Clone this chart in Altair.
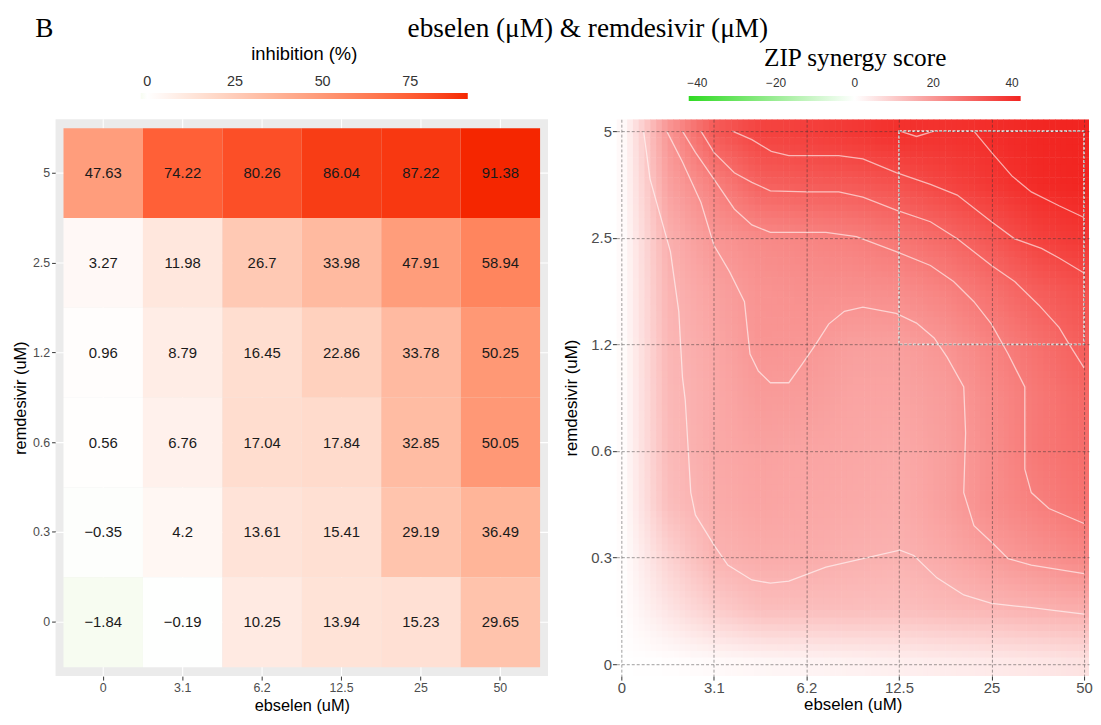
import json
import altair as alt
import pandas as pd

# ---------------- data ----------------
ebselen_labels = ["0", "3.1", "6.2", "12.5", "25", "50"]
remdesivir_labels = ["0", "0.3", "0.6", "1.2", "2.5", "5"]

# inhibition (%) — one list per remdesivir dose, columns = ebselen doses
inhib_rem_5 = [47.63, 74.22, 80.26, 86.04, 87.22, 91.38]
inhib_rem_2_5 = [3.27, 11.98, 26.7, 33.98, 47.91, 58.94]
inhib_rem_1_2 = [0.96, 8.79, 16.45, 22.86, 33.78, 50.25]
inhib_rem_0_6 = [0.56, 6.76, 17.04, 17.84, 32.85, 50.05]
inhib_rem_0_3 = [-0.35, 4.2, 13.61, 15.41, 29.19, 36.49]
inhib_rem_0 = [-1.84, -0.19, 10.25, 13.94, 15.23, 29.65]

# ZIP synergy surface read at half-dose-step positions (index units on both axes)
zip_pos = [0, 0.5, 1, 1.5, 2, 2.5, 3, 3.5, 4, 4.5, 5]
zip_row_5 = [0, 20.2, 32, 36.5, 37.2, 38.6, 40.2, 39.7, 40.5, 41.7, 42.2]
zip_row_4_5 = [0, 18, 24.5, 30.5, 31.5, 32, 33.5, 36, 38.5, 41, 42]
zip_row_4 = [0, 15.2, 20.2, 22.5, 23.5, 24.5, 26.5, 29, 32.5, 36.5, 38.5]
zip_row_3_5 = [0, 14.3, 18, 20.8, 21.5, 21.5, 22, 24, 27.5, 31, 33.5]
zip_row_3 = [0, 13.8, 17, 20.5, 20.2, 18.5, 18.5, 20.5, 24, 27.5, 31]
zip_row_2_5 = [0, 13.5, 16.5, 19.3, 19, 17.5, 17.5, 19, 22.5, 26, 29]
zip_row_2 = [0, 13.2, 16.5, 18, 17.5, 17, 16.5, 18.5, 22, 26, 28]
zip_row_1_5 = [0, 12.5, 16, 17.5, 17, 16.5, 16, 18.5, 22, 24.5, 27]
zip_row_1 = [0, 8.5, 14.6, 16, 16, 15.2, 14.8, 16.5, 19, 21, 23]
zip_row_0_5 = [0, 5, 9.5, 12.5, 12.5, 12.5, 12.3, 13.2, 14, 14.8, 15.5]
zip_row_0 = [0, 0, 0.5, 1, 1.5, 2, 2.5, 3, 3.5, 4, 5]

# contour lines (levels 15..40), in index units
contour15_i = [0.24, 0.31, 0.53, 0.62, 0.66, 0.69, 0.75, 0.80, 1.0, 1.15, 1.41, 1.61, 1.81, 2.21, 2.61, 3.01, 3.16, 3.41, 3.70, 4.0, 4.43, 5.0]
contour15_j = [5.0, 4.55, 3.87, 3.31, 2.69, 2.48, 1.61, 1.40, 1.12, 0.93, 0.79, 0.76, 0.78, 0.91, 0.99, 1.07, 1.02, 0.81, 0.65, 0.57, 0.53, 0.47]
contour20_i = [0.49, 0.66, 0.86, 1.0, 1.17, 1.33, 1.36, 1.39, 1.48, 1.61, 1.81, 1.95, 2.10, 2.24, 2.41, 2.61, 2.97, 3.19, 3.38, 3.52, 3.70, 3.72, 3.70, 3.81, 4.03, 4.18, 4.43, 5.0]
contour20_j = [5.0, 4.71, 4.33, 3.93, 3.68, 3.40, 3.15, 2.91, 2.75, 2.64, 2.64, 2.81, 3.0, 3.19, 3.31, 3.35, 3.29, 3.20, 3.06, 2.88, 2.60, 2.17, 1.61, 1.30, 1.12, 0.99, 0.93, 0.85]
contour25_i = [0.66, 0.80, 1.0, 1.22, 1.41, 1.61, 2.21, 2.54, 2.97, 3.34, 3.59, 3.81, 4.0, 4.18, 4.36, 4.36, 4.43, 4.62, 5.0]
contour25_j = [5.0, 4.8, 4.55, 4.27, 4.12, 4.05, 4.05, 4.01, 3.87, 3.74, 3.59, 3.40, 3.19, 2.91, 2.60, 1.83, 1.61, 1.46, 1.32]
contour30_i = [0.86, 1.0, 1.22, 1.41, 1.61, 2.01, 2.35, 2.61, 2.97, 3.34, 3.63, 4.0, 4.25, 4.51, 4.73, 4.84, 5.0]
contour30_j = [5.0, 4.8, 4.61, 4.52, 4.44, 4.43, 4.43, 4.38, 4.26, 4.15, 3.99, 3.74, 3.59, 3.37, 3.16, 3.0, 2.78]
contour35_i = [1.2, 1.41, 1.62, 1.81, 2.35, 2.61, 2.97, 3.34, 3.63, 4.0, 4.25, 4.54, 4.73, 5.0]
contour35_j = [5.0, 4.92, 4.81, 4.77, 4.77, 4.74, 4.61, 4.5, 4.4, 4.15, 3.99, 3.9, 3.81, 3.67]
contour40_i = [3.81, 4.0, 4.22, 4.43, 4.73, 5.0]
contour40_j = [5.0, 4.8, 4.58, 4.43, 4.3, 4.19]
contour40b_i = [3.01, 3.19, 3.38]
contour40b_j = [5.0, 4.95, 5.0]

# most synergistic area box (doses)
box_ebselen = ["12.5", "50"]
box_remdesivir = ["1.2", "5"]

# colour-bar limits read from the legends
inhib_limits = [-1.84, 91.38]
zip_limits = [-42.2, 42.2]

# ---------------- tables ----------------
heat_rows = []
for rem, vals in [("5", inhib_rem_5), ("2.5", inhib_rem_2_5), ("1.2", inhib_rem_1_2),
                  ("0.6", inhib_rem_0_6), ("0.3", inhib_rem_0_3), ("0", inhib_rem_0)]:
    for eb, v in zip(ebselen_labels, vals):
        heat_rows.append({"ebselen": eb, "remdesivir": rem, "inhibition": v})
heat_df = pd.DataFrame(heat_rows)
xgrid_df = pd.DataFrame({"ebselen": ebselen_labels})
ygrid_df = pd.DataFrame({"remdesivir": remdesivir_labels})

zip_rows = [(5, zip_row_5), (4.5, zip_row_4_5), (4, zip_row_4), (3.5, zip_row_3_5), (3, zip_row_3),
            (2.5, zip_row_2_5), (2, zip_row_2), (1.5, zip_row_1_5), (1, zip_row_1), (0.5, zip_row_0_5), (0, zip_row_0)]
surf_rows = []
for jpos, vals in zip_rows:
    for ipos, v in zip(zip_pos, vals):
        surf_rows.append({"ii": ipos, "jj": jpos, "v": v,
                          "key": int(round(ipos * 2)) * 100 + int(round(jpos * 2))})
surf_df = pd.DataFrame(surf_rows)

cont_rows = []
for name, ci, cj in [("15", contour15_i, contour15_j), ("20", contour20_i, contour20_j),
                     ("25", contour25_i, contour25_j), ("30", contour30_i, contour30_j),
                     ("35", contour35_i, contour35_j), ("40", contour40_i, contour40_j),
                     ("40b", contour40b_i, contour40b_j)]:
    for k, (a, b) in enumerate(zip(ci, cj)):
        cont_rows.append({"lvl": name, "ord": k, "ci": a, "cj": b})
cont_df = pd.DataFrame(cont_rows)

box_df = pd.DataFrame([{
    "bx0": ebselen_labels.index(box_ebselen[0]), "bx1": ebselen_labels.index(box_ebselen[1]),
    "by0": remdesivir_labels.index(box_remdesivir[0]), "by1": remdesivir_labels.index(box_remdesivir[1]),
}])

# ---------------- left: inhibition heatmap ----------------
SANS = "Liberation Sans"
SERIF = "Liberation Serif"

left_axis_common = dict(domain=False, tickColor="#333333", tickSize=4, tickWidth=1,
                        labelFontSize=12.5, labelColor="#4D4D4D", labelPadding=2,
                        titleFontSize=16.5, titleFontWeight="normal", titleColor="black",
                        grid=False, bandPosition=0.5)

x_scale_left = alt.Scale(domain=ebselen_labels, paddingInner=0, paddingOuter=0.1)
y_scale_left = alt.Scale(domain=list(reversed(remdesivir_labels)), paddingInner=0, paddingOuter=0.1)
x_left = alt.X("ebselen:O", scale=x_scale_left,
               axis=alt.Axis(title="ebselen (uM)", labelAngle=0, titlePadding=3, **left_axis_common))
y_left = alt.Y("remdesivir:O", scale=y_scale_left,
               axis=alt.Axis(title="remdesivir (uM)", titlePadding=4, **left_axis_common))

vgrid = alt.Chart(xgrid_df).mark_rule(color="white", strokeWidth=1.1).encode(x=x_left)
hgrid = alt.Chart(ygrid_df).mark_rule(color="white", strokeWidth=1.1).encode(y=y_left)

tiles = alt.Chart(heat_df).mark_rect(opacity=1).encode(
    x=x_left, y=y_left,
    color=alt.Color("inhibition:Q",
                    scale=alt.Scale(domain=[inhib_limits[0], 0, inhib_limits[1]],
                                    range=["#F7FCF1", "#FFFFFF", "#F52600"], interpolate="lab"),
                    legend=alt.Legend(orient="none", legendX=86, legendY=-75, direction="horizontal",
                                      title="inhibition (%)", titleFont=SANS, titleFontSize=18.5,
                                      titleFontWeight="normal", titleColor="black", titleAnchor="middle",
                                      titleLimit=600, titlePadding=30, gradientLength=330,
                                      gradientThickness=6, gradientStrokeWidth=0, values=[0, 25, 50, 75],
                                      labelOffset={"expr": "-24"}, labelFontSize=14.5, labelColor="#333333",
                                      labelFont=SANS)),
)
tile_text = alt.Chart(heat_df).transform_calculate(
    label="replace(toString(datum.inhibition), '-', '\u2212')"
).mark_text(font=SANS, fontSize=15, color="#1A1A1A").encode(
    x=x_left, y=y_left, text="label:N"
)

left = alt.layer(vgrid, hgrid, tiles, tile_text).properties(
    width=497, height=562,
    view=alt.ViewBackground(fill="#EBEBEB", strokeWidth=0),
)

# ---------------- right: ZIP synergy surface ----------------
XMIN, XMAX = -0.054, 5.054
YMIN, YMAX = -0.1115, 5.1115
N = 8

x_scale = alt.Scale(domain=[XMIN, XMAX], nice=False, zero=False)
y_scale = alt.Scale(domain=[YMIN, YMAX], nice=False, zero=False)
right_axis_common = dict(domain=False, tickColor="#333333", tickSize=4, tickWidth=1,
                         labelFontSize=15, labelColor="#4D4D4D", labelPadding=1,
                         titleFontSize=17, titleFontWeight="normal", titleColor="black",
                         grid=True, gridColor="#333333", gridOpacity=0.6, gridDash=[3, 2],
                         gridWidth=0.8, zindex=1)
x_right_axis = alt.Axis(title="ebselen (uM)", values=[0, 1, 2, 3, 4, 5],
                        labelExpr=json.dumps(ebselen_labels) + "[datum.value]",
                        titlePadding=1, **right_axis_common)
y_right_axis = alt.Axis(title="remdesivir (uM)", values=[0, 1, 2, 3, 4, 5],
                        labelExpr=json.dumps(remdesivir_labels) + "[datum.value]",
                        titlePadding=10, **right_axis_common)


def rx(field):
    return alt.X(field, type="quantitative", scale=x_scale, axis=x_right_axis)


def ry(field):
    return alt.Y(field, type="quantitative", scale=y_scale, axis=y_right_axis)


def lk():
    return alt.LookupData(data=surf_df, key="key", fields=["v"])


surface = alt.Chart(surf_df).transform_calculate(
    gi="round(datum.ii * 2)", gj="round(datum.jj * 2)"
).transform_filter(
    "datum.gi < 10 && datum.gj < 10"
).transform_calculate(
    k10="(datum.gi + 1) * 100 + datum.gj",
    k01="datum.gi * 100 + datum.gj + 1",
    k11="(datum.gi + 1) * 100 + datum.gj + 1",
).transform_lookup(
    lookup="k10", from_=lk(), as_=["v10"]
).transform_lookup(
    lookup="k01", from_=lk(), as_=["v01"]
).transform_lookup(
    lookup="k11", from_=lk(), as_=["v11"]
).transform_calculate(
    sx=f"sequence(0, {N})"
).transform_flatten(["sx"]).transform_calculate(
    sy=f"sequence(0, {N})"
).transform_flatten(["sy"]).transform_calculate(
    uc=f"(datum.sx + 0.5) / {N}",
    vc=f"(datum.sy + 0.5) / {N}",
).transform_calculate(
    val="(1 - datum.uc) * (1 - datum.vc) * datum.v + datum.uc * (1 - datum.vc) * datum.v10"
        " + (1 - datum.uc) * datum.vc * datum.v01 + datum.uc * datum.vc * datum.v11",
    x0=f"(datum.gi == 0 && datum.sx == 0) ? {XMIN} : datum.ii + 0.5 * datum.sx / {N}",
    x1=f"(datum.gi == 9 && datum.sx == {N - 1}) ? {XMAX} : datum.ii + 0.5 * (datum.sx + 1) / {N} + 0.006",
    y0=f"(datum.gj == 0 && datum.sy == 0) ? {YMIN} : datum.jj + 0.5 * datum.sy / {N}",
    y1=f"(datum.gj == 9 && datum.sy == {N - 1}) ? {YMAX} : datum.jj + 0.5 * (datum.sy + 1) / {N} + 0.006",
).mark_rect(clip=True).encode(
    x=rx("x0"), x2="x1:Q", y=ry("y0"), y2="y1:Q",
    color=alt.Color("val:Q",
                    scale=alt.Scale(domain=[zip_limits[0], 0, zip_limits[1]],
                                    range=["#2FDA22", "#FFFFFF", "#F22420"], interpolate="rgb"),
                    legend=alt.Legend(orient="none", legendX=73, legendY=-74, direction="horizontal",
                                      title="ZIP synergy score", titleFont=SERIF, titleFontSize=25.5,
                                      titleFontWeight="normal", titleColor="black", titleAnchor="middle",
                                      titleLimit=600, titlePadding=25, gradientLength=335,
                                      gradientThickness=5, gradientStrokeWidth=0,
                                      values=[-40, -20, 0, 20, 40],
                                      labelOffset={"expr": "-23.5"}, labelFontSize=12, labelColor="#333333",
                                      labelFont=SANS)),
)

contours = alt.Chart(cont_df).mark_line(color="white", strokeWidth=1.3, opacity=0.6, clip=True).encode(
    x=rx("ci"), y=ry("cj"), detail="lvl:N", order="ord:Q"
)

box = alt.Chart(box_df).mark_rect(fill="transparent", stroke="#E2E2E2", strokeWidth=1.6,
                                  strokeDash=[3, 1.5]).encode(
    x=rx("bx0"), x2="bx1:Q", y=ry("by0"), y2="by1:Q"
)

right = alt.layer(surface, contours, box).properties(width=477, height=562)

panel_tag = "B"
main_title = "ebselen (\u03bcM) & remdesivir (\u03bcM)"

chart = alt.hconcat(left, right, spacing=69, bounds="flush").resolve_scale(
    color="independent"
).properties(
    title=alt.TitleParams(panel_tag + "\u00a0" * 52 + main_title, font=SERIF, fontSize=27.5,
                          fontWeight="normal", color="black", anchor="start", frame="bounds",
                          dx=23, offset=2),
    padding={"left": 4, "top": 4, "right": 0, "bottom": 0},
).configure(font=SANS).configure_view(stroke="transparent")

chart.save("out.html", embed_options={"renderer": "svg", "actions": False})
